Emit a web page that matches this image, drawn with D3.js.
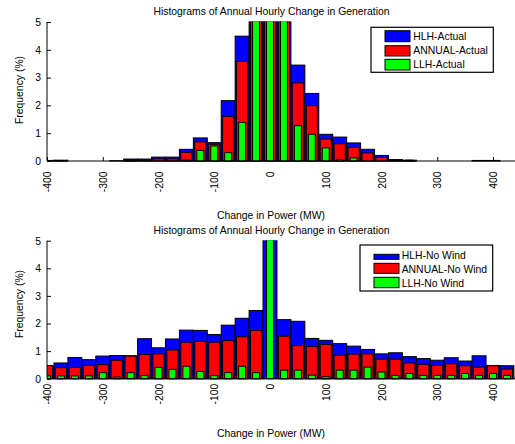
<!DOCTYPE html>
<html>
<head>
<meta charset="utf-8">
<script src="https://cdn.jsdelivr.net/npm/d3@7"></script>
<style>
  html, body { margin: 0; padding: 0; background: #fff; }
  svg { display: block; }
  text { font-family: "Liberation Sans", Arial, sans-serif; }
</style>
</head>
<body>
<div id="chart"></div>
<script>
// Histogram bin centres (MW), 25 MW bins
const bins = [-400, -375, -350, -325, -300, -275, -250, -225, -200, -175, -150, -125, -100, -75, -50, -25,
              0, 25, 50, 75, 100, 125, 150, 175, 200, 225, 250, 275, 300, 325, 350, 375, 400, 425];

// Frequency (%) with wind
const hlhActual    = [0.02, 0.03, 0, 0, 0, 0.01, 0.07, 0.07, 0.14, 0.14, 0.42, 0.83, 0.66, 2.17, 4.49, 9.2,
                      14.8, 8.6, 3.45, 2.43, 0.96, 0.86, 0.65, 0.42, 0.2, 0.05, 0.03, 0, 0, 0, 0, 0.02, 0.02, 0];
const annualActual = [0, 0.01, 0, 0, 0, 0, 0.03, 0.04, 0.08, 0.08, 0.31, 0.69, 0.6, 1.6, 3.58, 8.1,
                      12.6, 7.4, 2.81, 1.99, 0.79, 0.62, 0.49, 0.29, 0.13, 0.03, 0.01, 0, 0, 0, 0, 0, 0, 0];
const llhActual    = [0, 0, 0, 0, 0, 0, 0.04, 0, 0, 0, 0.04, 0.38, 0.54, 0.3, 1.39, 6.2,
                      9.5, 6.6, 1.27, 0.96, 0.47, 0.05, 0.11, 0, 0, 0, 0.03, 0, 0, 0, 0, 0, 0, 0];

// Frequency (%) without wind
const hlhNoWind    = [0.45, 0.57, 0.77, 0.69, 0.82, 0.84, 0.83, 1.45, 1.12, 1.44, 1.76, 1.75, 1.6, 1.94, 2.19, 2.47,
                      8.3, 2.14, 2.08, 1.46, 1.39, 1.27, 1.18, 1.06, 0.9, 0.94, 0.8, 0.73, 0.67, 0.76, 0.64, 0.83, 0.48, 0.47];
const annualNoWind = [0.48, 0.4, 0.41, 0.48, 0.51, 0.67, 0.82, 0.88, 0.9, 1.04, 1.32, 1.35, 1.32, 1.38, 1.52, 1.75,
                      0, 1.54, 1.2, 1.17, 1.24, 0.85, 0.89, 0.9, 0.71, 0.71, 0.57, 0.52, 0.48, 0.54, 0.47, 0.42, 0.47, 0.35];
const llhNoWind    = [0.1, 0.1, 0.1, 0.1, 0.22, 0.06, 0.22, 0.11, 0.41, 0.34, 0.45, 0.26, 0.11, 0.22, 0.45, 0.22,
                      11.5, 0.31, 0.31, 0.13, 0.07, 0.31, 0.31, 0.42, 0.24, 0.12, 0.19, 0.12, 0.12, 0.12, 0.19, 0.12, 0.19, 0.12];

const xTicks = [-400, -300, -200, -100, 0, 100, 200, 300, 400];
const yTicks = [0, 1, 2, 3, 4, 5];
const labelsActual = ["HLH-Actual", "ANNUAL-Actual", "LLH-Actual"];
const labelsNoWind = ["HLH-No Wind", "ANNUAL-No Wind", "LLH-No Wind"];
const titleText = "Histograms of Annual Hourly Change in Generation";
const xLabelText = "Change in Power (MW)";
const yLabelText = "Frequency (%)";

const binWidth = 25;
const colors = ["#0000ff", "#ff0000", "#00ff00"];
const widthFrac = [1.0, 0.8, 0.5];
const FS = 10.4;
const FONT = '"Liberation Sans", Arial, sans-serif';
const fmt = d => String(d);

const W = 515, H = 444;
const svg = d3.select("#chart").append("svg").attr("width", W).attr("height", H);

const x = d3.scaleLinear().domain([-400, 440]).range([47, 515.3]);

function drawPanel(p, idx) {
  const g = svg.append("g");
  const y = d3.scaleLinear().domain([0, 5]).range([p.bottom, p.top]);

  const clipId = "clip" + idx;
  svg.append("clipPath").attr("id", clipId)
    .append("rect")
    .attr("x", x.range()[0]).attr("y", p.top - 0.5)
    .attr("width", W - x.range()[0]).attr("height", p.bottom - p.top + 2);

  // Axes (ticks point inward)
  const yAxis = d3.axisLeft(y).tickValues(yTicks).tickSizeInner(-4).tickSizeOuter(0)
    .tickPadding(6).tickFormat(fmt);
  const gy = g.append("g").attr("transform", `translate(${x.range()[0]},0)`).call(yAxis);
  gy.select(".domain").remove();
  gy.selectAll("text").attr("font-size", FS).attr("font-family", FONT);

  const xAxis = d3.axisBottom(x).tickValues(xTicks).tickSizeInner(-4).tickSizeOuter(0).tickFormat(fmt);
  const gx = g.append("g").attr("transform", `translate(0,${p.bottom})`).call(xAxis);
  gx.select(".domain").remove();
  gx.selectAll("text")
    .attr("font-size", FS).attr("font-family", FONT)
    .attr("text-anchor", "end")
    .attr("transform", "rotate(-90)")
    .attr("x", -p.tickGap).attr("y", 0).attr("dy", "0.35em");

  // Overlaid bars: HLH widest, ANNUAL narrower, LLH narrowest
  const bars = g.append("g").attr("clip-path", `url(#${clipId})`);
  p.series.forEach((vals, si) => {
    const half = binWidth * widthFrac[si] / 2;
    bars.append("g").selectAll("rect")
      .data(bins.map((b, i) => ({ b, v: vals[i] })).filter(d => d.v > 0))
      .join("rect")
      .attr("x", d => x(d.b - half))
      .attr("width", d => x(d.b + half) - x(d.b - half))
      .attr("y", d => y(d.v))
      .attr("height", d => y(0) - y(d.v))
      .attr("fill", colors[si])
      .attr("stroke", "#000")
      .attr("stroke-width", 1);
  });

  // Axis lines
  g.append("line").attr("x1", x.range()[0]).attr("x2", x.range()[0])
    .attr("y1", p.top).attr("y2", p.bottom).attr("stroke", "#000");
  g.append("line").attr("x1", x.range()[0]).attr("x2", W)
    .attr("y1", p.bottom).attr("y2", p.bottom).attr("stroke", "#000").attr("stroke-width", 1.2);

  // Titles
  g.append("text").attr("x", 271.5).attr("y", p.titleY).attr("text-anchor", "middle")
    .attr("font-size", FS).text(titleText);
  g.append("text").attr("x", 271).attr("y", p.xLabelY).attr("text-anchor", "middle")
    .attr("font-size", FS).text(xLabelText);
  g.append("text").attr("transform", `translate(22.5,${p.yLabelY}) rotate(-90)`)
    .attr("text-anchor", "middle").attr("font-size", FS).text(yLabelText);

  // Legend
  const L = p.legend;
  const lg = g.append("g");
  lg.append("rect").attr("x", L.x).attr("y", L.y).attr("width", L.w).attr("height", L.h)
    .attr("fill", "#fff").attr("stroke", "#000").attr("stroke-width", 1.2);
  p.labels.forEach((lab, i) => {
    const s = L.swatches[i];
    lg.append("rect").attr("x", L.sx).attr("y", s[0]).attr("width", 25).attr("height", s[1])
      .attr("fill", colors[i]).attr("stroke", "#000").attr("stroke-width", 1);
    lg.append("text").attr("x", L.tx).attr("y", L.baselines[i]).attr("font-size", FS).text(lab);
  });
}

const panels = [
  {
    top: 22, bottom: 161, tickGap: 10.5, titleY: 14.7, xLabelY: 219, yLabelY: 90,
    series: [hlhActual, annualActual, llhActual], labels: labelsActual,
    legend: { x: 371, y: 27.3, w: 122.3, h: 45, sx: 385, tx: 413.3,
              swatches: [[30.7, 11], [45.7, 10.3], [59.3, 10.7]], baselines: [39.5, 54, 68] }
  },
  {
    top: 240.7, bottom: 378.7, tickGap: 5, titleY: 234, xLabelY: 437, yLabelY: 304,
    series: [hlhNoWind, annualNoWind, llhNoWind], labels: labelsNoWind,
    legend: { x: 360, y: 245, w: 132.7, h: 46, sx: 374, tx: 401.7,
              swatches: [[254.3, 5], [263.3, 10], [277.3, 10.4]], baselines: [258.8, 273, 286.5] }
  }
];

panels.forEach(drawPanel);
</script>
</body>
</html>
